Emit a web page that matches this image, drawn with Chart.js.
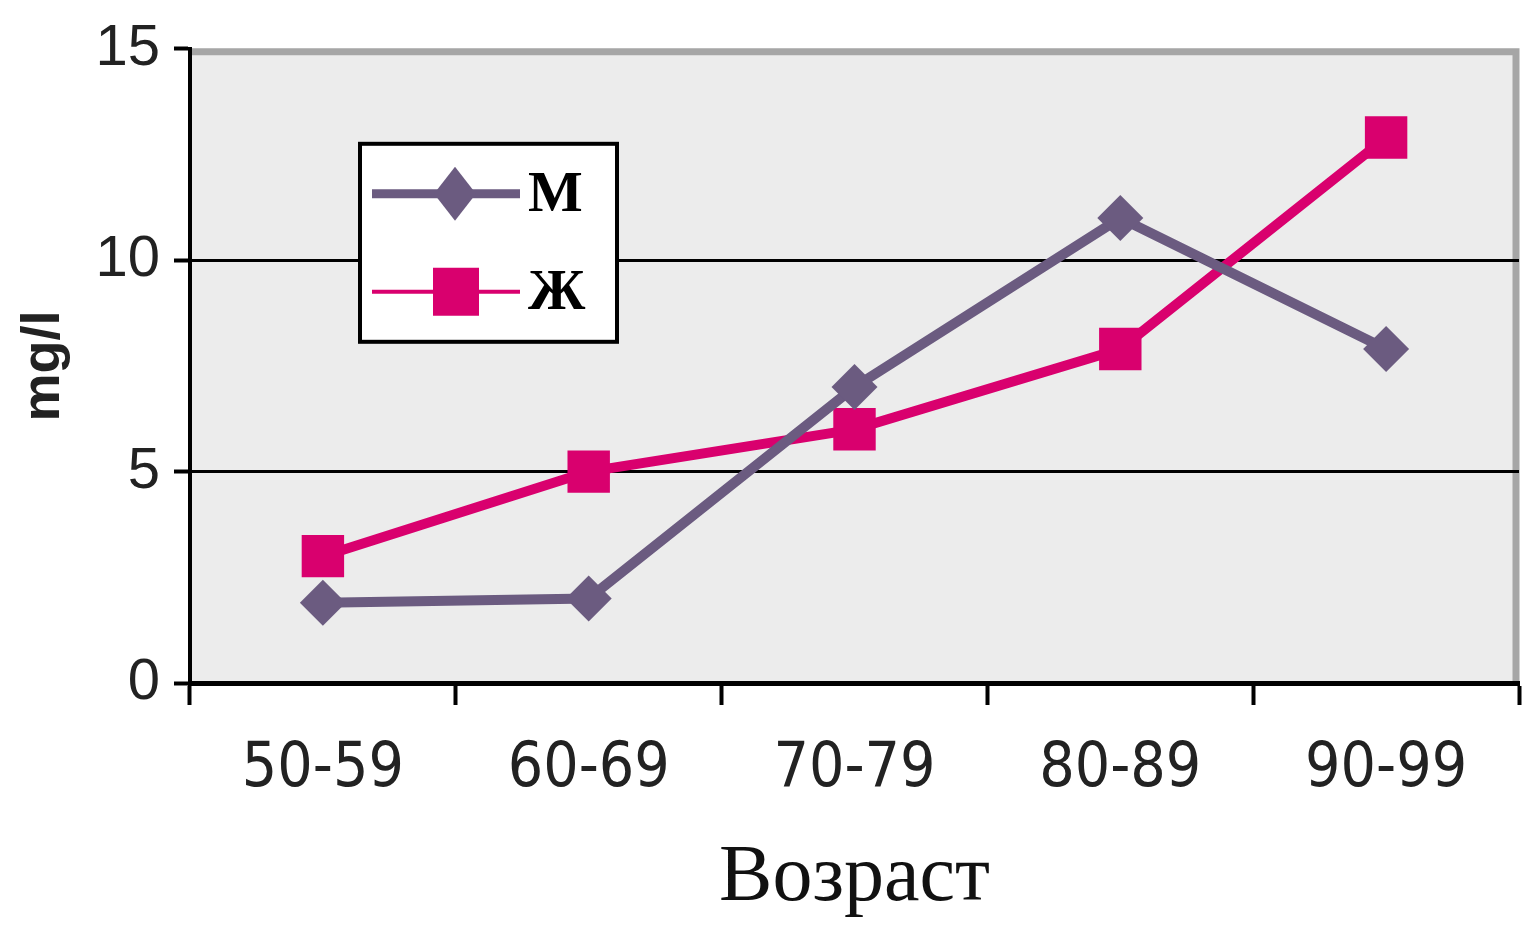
<!DOCTYPE html>
<html>
<head>
<meta charset="utf-8">
<script src="https://cdn.jsdelivr.net/npm/chart.js@4/dist/chart.umd.min.js"></script>
<style>
  html, body { margin: 0; padding: 0; background: #ffffff; }
  #wrap { width: 1525px; height: 929px; position: relative; }
</style>
</head>
<body>
<div id="wrap"><canvas id="lipidChart"></canvas></div>
<script>
// data
const ageGroups = ['50-59', '60-69', '70-79', '80-89', '90-99'];
const menValues = [1.9, 2, 7, 11, 7.9];
const womenValues = [3, 5, 6, 7.9, 12.9];
const seriesNames = ['М', 'Ж'];
const yTicks = [0, 5, 10, 15];
const xTitle = 'Возраст';
const yTitle = 'mg/l';

const menColor = '#6b5b80';
const womenColor = '#d9006e';

// grey plot area with the raised frame on top / right
const plotBackground = {
    id: 'plotBackground',
    beforeDraw(chart) {
        const { ctx, chartArea: a } = chart;
        ctx.save();
        ctx.fillStyle = '#ececec';
        ctx.fillRect(a.left, a.top, a.right - a.left, a.bottom - a.top);
        ctx.strokeStyle = '#a6a6a6';
        ctx.lineWidth = 7;
        ctx.beginPath();
        ctx.moveTo(a.left, a.top + 3);
        ctx.lineTo(a.right - 3, a.top + 3);
        ctx.lineTo(a.right - 3, a.bottom);
        ctx.stroke();
        ctx.restore();
    }
};

// boxed legend sitting inside the plot area
const boxLegend = {
    id: 'boxLegend',
    afterDatasetsDraw(chart) {
        const { ctx, chartArea: a } = chart;
        const x = a.left + 170, y = a.top + 95, w = 257, h = 198;
        ctx.save();
        ctx.fillStyle = '#ffffff';
        ctx.fillRect(x, y, w, h);
        ctx.strokeStyle = '#000';
        ctx.lineWidth = 4;
        ctx.strokeRect(x, y, w, h);

        const rows = [y + 50, y + 148];
        chart.data.datasets.forEach((ds, i) => {
            const cy = rows[i];
            ctx.strokeStyle = ds.borderColor;
            ctx.lineWidth = i === 0 ? 9 : 4;
            ctx.beginPath();
            ctx.moveTo(x + 12, cy);
            ctx.lineTo(x + 160, cy);
            ctx.stroke();
            ctx.fillStyle = ds.pointBackgroundColor;
            ctx.beginPath();
            if (ds.pointStyle === 'rectRot') {
                ctx.moveTo(x + 95, cy - 27);
                ctx.lineTo(x + 116, cy);
                ctx.lineTo(x + 95, cy + 27);
                ctx.lineTo(x + 74, cy);
                ctx.closePath();
            } else {
                ctx.rect(x + 73, cy - 24, 46, 48);
            }
            ctx.fill();
            ctx.fillStyle = '#000';
            ctx.font = 'bold 58px "Liberation Serif", "DejaVu Serif", serif';
            ctx.textBaseline = 'middle';
            ctx.fillText(ds.label, x + 168, cy + 2);
        });
        ctx.restore();
    }
};

const ctx = document.getElementById('lipidChart').getContext('2d');
new Chart(ctx, {
    type: 'line',
    data: {
        labels: ageGroups,
        datasets: [{
            label: seriesNames[0],
            data: menValues,
            borderColor: menColor,
            backgroundColor: menColor,
            borderWidth: 10,
            tension: 0,
            pointStyle: 'rectRot',
            pointRadius: 23,
            pointBackgroundColor: menColor,
            pointBorderColor: menColor,
            pointBorderWidth: 0
        }, {
            label: seriesNames[1],
            data: womenValues,
            borderColor: womenColor,
            backgroundColor: womenColor,
            borderWidth: 10,
            tension: 0,
            pointStyle: 'rect',
            pointRadius: 30,
            pointBackgroundColor: womenColor,
            pointBorderColor: womenColor,
            pointBorderWidth: 0
        }]
    },
    options: {
        responsive: true,
        maintainAspectRatio: false,
        animation: false,
        layout: {
            autoPadding: false,
            padding: { left: 0, top: 47, right: 6, bottom: 0 }
        },
        plugins: {
            legend: { display: false },
            tooltip: { enabled: false }
        },
        scales: {
            x: {
                offset: true,
                afterFit(scale) {
                    scale.height = 246;
                    scale.paddingLeft = 0;
                    scale.paddingRight = 0;
                },
                grid: {
                    offset: true,
                    drawOnChartArea: false,
                    drawTicks: true,
                    tickLength: 22,
                    tickWidth: 4,
                    tickColor: '#000'
                },
                border: { display: true, color: '#000', width: 5 },
                ticks: {
                    padding: 28,
                    color: '#222',
                    font: { family: '"Liberation Sans Narrow", "DejaVu Sans Condensed", "Liberation Sans", Arial, sans-serif', size: 62 }
                },
                title: {
                    display: true,
                    text: xTitle,
                    color: '#111',
                    padding: { top: 0, bottom: 2 },
                    font: { family: '"Liberation Serif", "DejaVu Serif", serif', size: 80 }
                }
            },
            y: {
                min: 0,
                max: 15,
                afterFit(scale) { scale.width = 190; },
                afterBuildTicks(scale) { scale.ticks = yTicks.map(v => ({ value: v })); },
                grid: {
                    color: c => (c.tick && c.tick.value === 15) ? 'rgba(0,0,0,0)' : '#000',
                    lineWidth: 3,
                    drawTicks: true,
                    tickLength: 16,
                    tickWidth: 4,
                    tickColor: '#000'
                },
                border: { display: true, color: '#000', width: 4 },
                ticks: {
                    padding: 14,
                    color: '#222',
                    font: { family: '"Liberation Sans", Arial, sans-serif', size: 58 }
                },
                title: {
                    display: true,
                    text: yTitle,
                    color: '#222',
                    padding: { top: 12, bottom: 0 },
                    font: { family: '"Liberation Sans", Arial, sans-serif', size: 54, weight: 'bold' }
                }
            }
        }
    },
    plugins: [plotBackground, boxLegend]
});
</script>
</body>
</html>
